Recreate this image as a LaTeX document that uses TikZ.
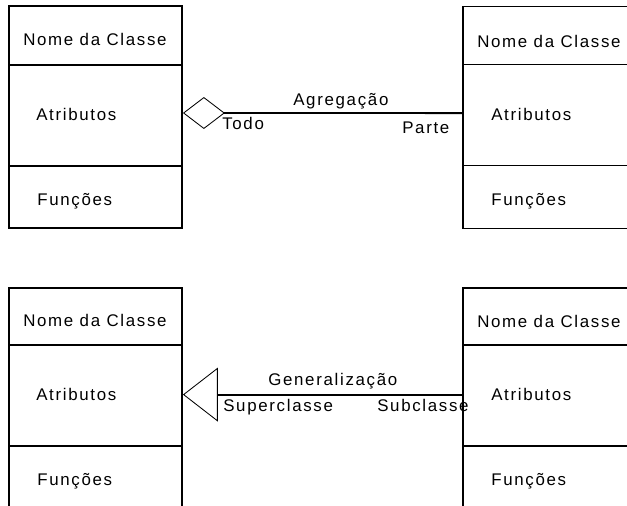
\documentclass[tikz,border=0pt]{standalone}
\usepackage{fontspec}
\newfontfamily\umlfont[LetterSpace=10]{Liberation Sans}
\usetikzlibrary{arrows.meta}

\tikzset{
	classbox/.style={draw, line width=1.3pt, minimum width=4.325cm, minimum height=5.55cm, inner sep=0pt},
	umltext/.style={font=\umlfont\fontsize{12}{14}\selectfont, inner sep=0pt, anchor=base west},
	relation/.style={line width=1.3pt},
}

\begin{document}
\begin{tikzpicture}[x=0.025cm, y=-0.025cm]
			%%%%% START %%%%%
			\useasboundingbox (0, 0) rectangle (627, 506);
			\clip (0, 0) rectangle (627, 506);
			
			% class boxes
			\node[classbox] (todo) at (95.5, 117) {};
			\node[classbox] (parte) at (549.5, 117.5) {};
			\node[classbox] (super) at (95.5, 399) {};
			\node[classbox] (sub) at (549.5, 399) {};
			
			\foreach \cls/\a/\b in {todo/60/161, parte/59/160, super/58/159, sub/58/159} {
				\draw[line width=1.3pt] (\cls.north west) ++(0, \a) -- ++(173, 0);
				\draw[line width=1.3pt] (\cls.north west) ++(0, \b) -- ++(173, 0);
			}
			
			% texts of the boxes
			\node[umltext] (todo-name) at (23, 46) {Nome da Classe};
			\node[umltext] (todo-attr) at (36, 120) {Atributos};
			\node[umltext] (todo-func) at (37, 205) {Funções};
			
			\node[umltext] (parte-name) at (477, 47) {Nome da Classe};
			\node[umltext] (parte-attr) at (491, 120) {Atributos};
			\node[umltext] (parte-func) at (491, 205) {Funções};
			
			\node[umltext] (super-name) at (23, 326) {Nome da Classe};
			\node[umltext] (super-attr) at (36, 400) {Atributos};
			\node[umltext] (super-func) at (37, 485) {Funções};
			
			\node[umltext] (sub-name) at (477, 327) {Nome da Classe};
			\node[umltext] (sub-attr) at (491, 400) {Atributos};
			\node[umltext] (sub-func) at (491, 485) {Funções};
			
			% aggregation
			\draw[relation, {Diamond[open, length=29.8pt, width=22.7pt, line width=0.6pt]}-]
				([yshift=1mm]todo.east) -- ([yshift=1.1mm]parte.west);
			\node[umltext] (agg-label) at (293, 105) {Agregação};
			\node[umltext] (agg-todo) at (222, 129) {Todo};
			\node[umltext] (agg-parte) at (402, 133) {Parte};
			
			% generalization
			\draw[relation, {Triangle[open, length=24.8pt, width=38.3pt, line width=0.6pt]}-]
				([yshift=1.1mm]super.east) -- ([yshift=1.1mm]sub.west);
			\node[umltext] (gen-label) at (268, 385) {Generalização};
			\node[umltext] (gen-super) at (223, 411) {Superclasse};
			\node[umltext] (gen-sub) at (377, 411) {Subclasse};
			
			%%%%% END %%%%%
\end{tikzpicture}
\end{document}
